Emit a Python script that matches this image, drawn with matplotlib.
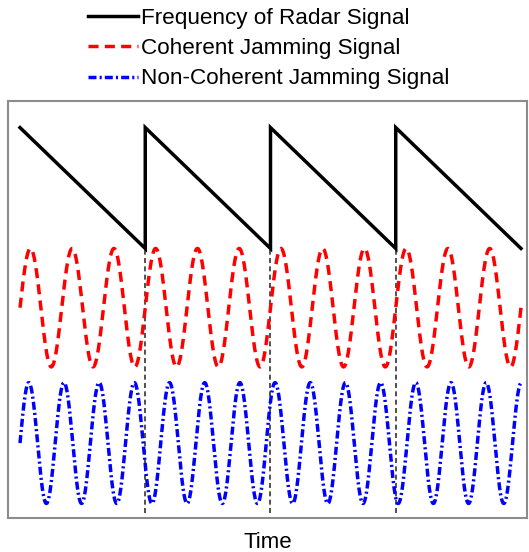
import numpy as np
import matplotlib
matplotlib.use("Agg")
import matplotlib.pyplot as plt

plt.rcParams['font.family'] = ['Liberation Sans', 'DejaVu Sans']

# ---- data ----
labels = ["Frequency of Radar Signal", "Coherent Jamming Signal", "Non-Coherent Jamming Signal"]
xlabel = "Time"

# sawtooth corner points (time, value)
saw_t = [0, 1, 1, 2, 2, 3, 3, 4]
saw_v = [3.23, 2.23, 3.23, 2.23, 3.23, 2.23, 3.23, 2.23]

# coherent jamming: sine parameters
coh_freq = 3.0      # cycles per radar period
coh_amp = 0.49
coh_center = 1.74

# non-coherent jamming: sine parameters
noncoh_freq = 3.56
noncoh_amp = 0.50
noncoh_center = 0.62

# vertical marker lines at radar period boundaries
vline_t = [1, 2, 3]
vline_bottom = 0.04
vline_top = 2.23

t_start, t_end = 0.0, 4.0

# ---- figure ----
fig = plt.figure(figsize=(5.29, 5.52), dpi=100)
ax = fig.add_axes([8/529, 34/552, 519/529, 417/552])

t = np.linspace(t_start, t_end, 4000)
coh = coh_center + coh_amp*np.sin(2*np.pi*coh_freq*t)
noncoh = noncoh_center + noncoh_amp*np.sin(2*np.pi*noncoh_freq*t)

lw = 2.5
ax.plot(saw_t, saw_v, color='black', lw=lw, solid_joinstyle='miter', label=labels[0])
ax.plot(t, coh, color='#ff0000', lw=lw, linestyle=(0, (2.9, 1.8)), label=labels[1])
ax.plot(t, noncoh, color='#0000ff', lw=lw, linestyle=(0, (2.3, 0.9, 0.6, 0.9)), label=labels[2])

for vt in vline_t:
    ax.plot([vt, vt], [vline_bottom, vline_top], color='#333333', lw=1.2,
            linestyle=(0, (3, 2)), zorder=1)

ax.set_xlim(-0.0958, 4.048)
ax.set_ylim(0, 3.45)
ax.set_xticks([])
ax.set_yticks([])
for s in ax.spines.values():
    s.set_color('#8c8c8c')
    s.set_linewidth(1.5)

ax.set_xlabel(xlabel, fontsize=16, labelpad=10)

fig.legend(loc='upper left', bbox_to_anchor=(88/529, 1 - 8/552), frameon=False,
           fontsize=16.2, handlelength=2.2, handletextpad=0.15, labelspacing=0.41,
           borderpad=0, borderaxespad=0)

fig.savefig('out.png', dpi=100)
